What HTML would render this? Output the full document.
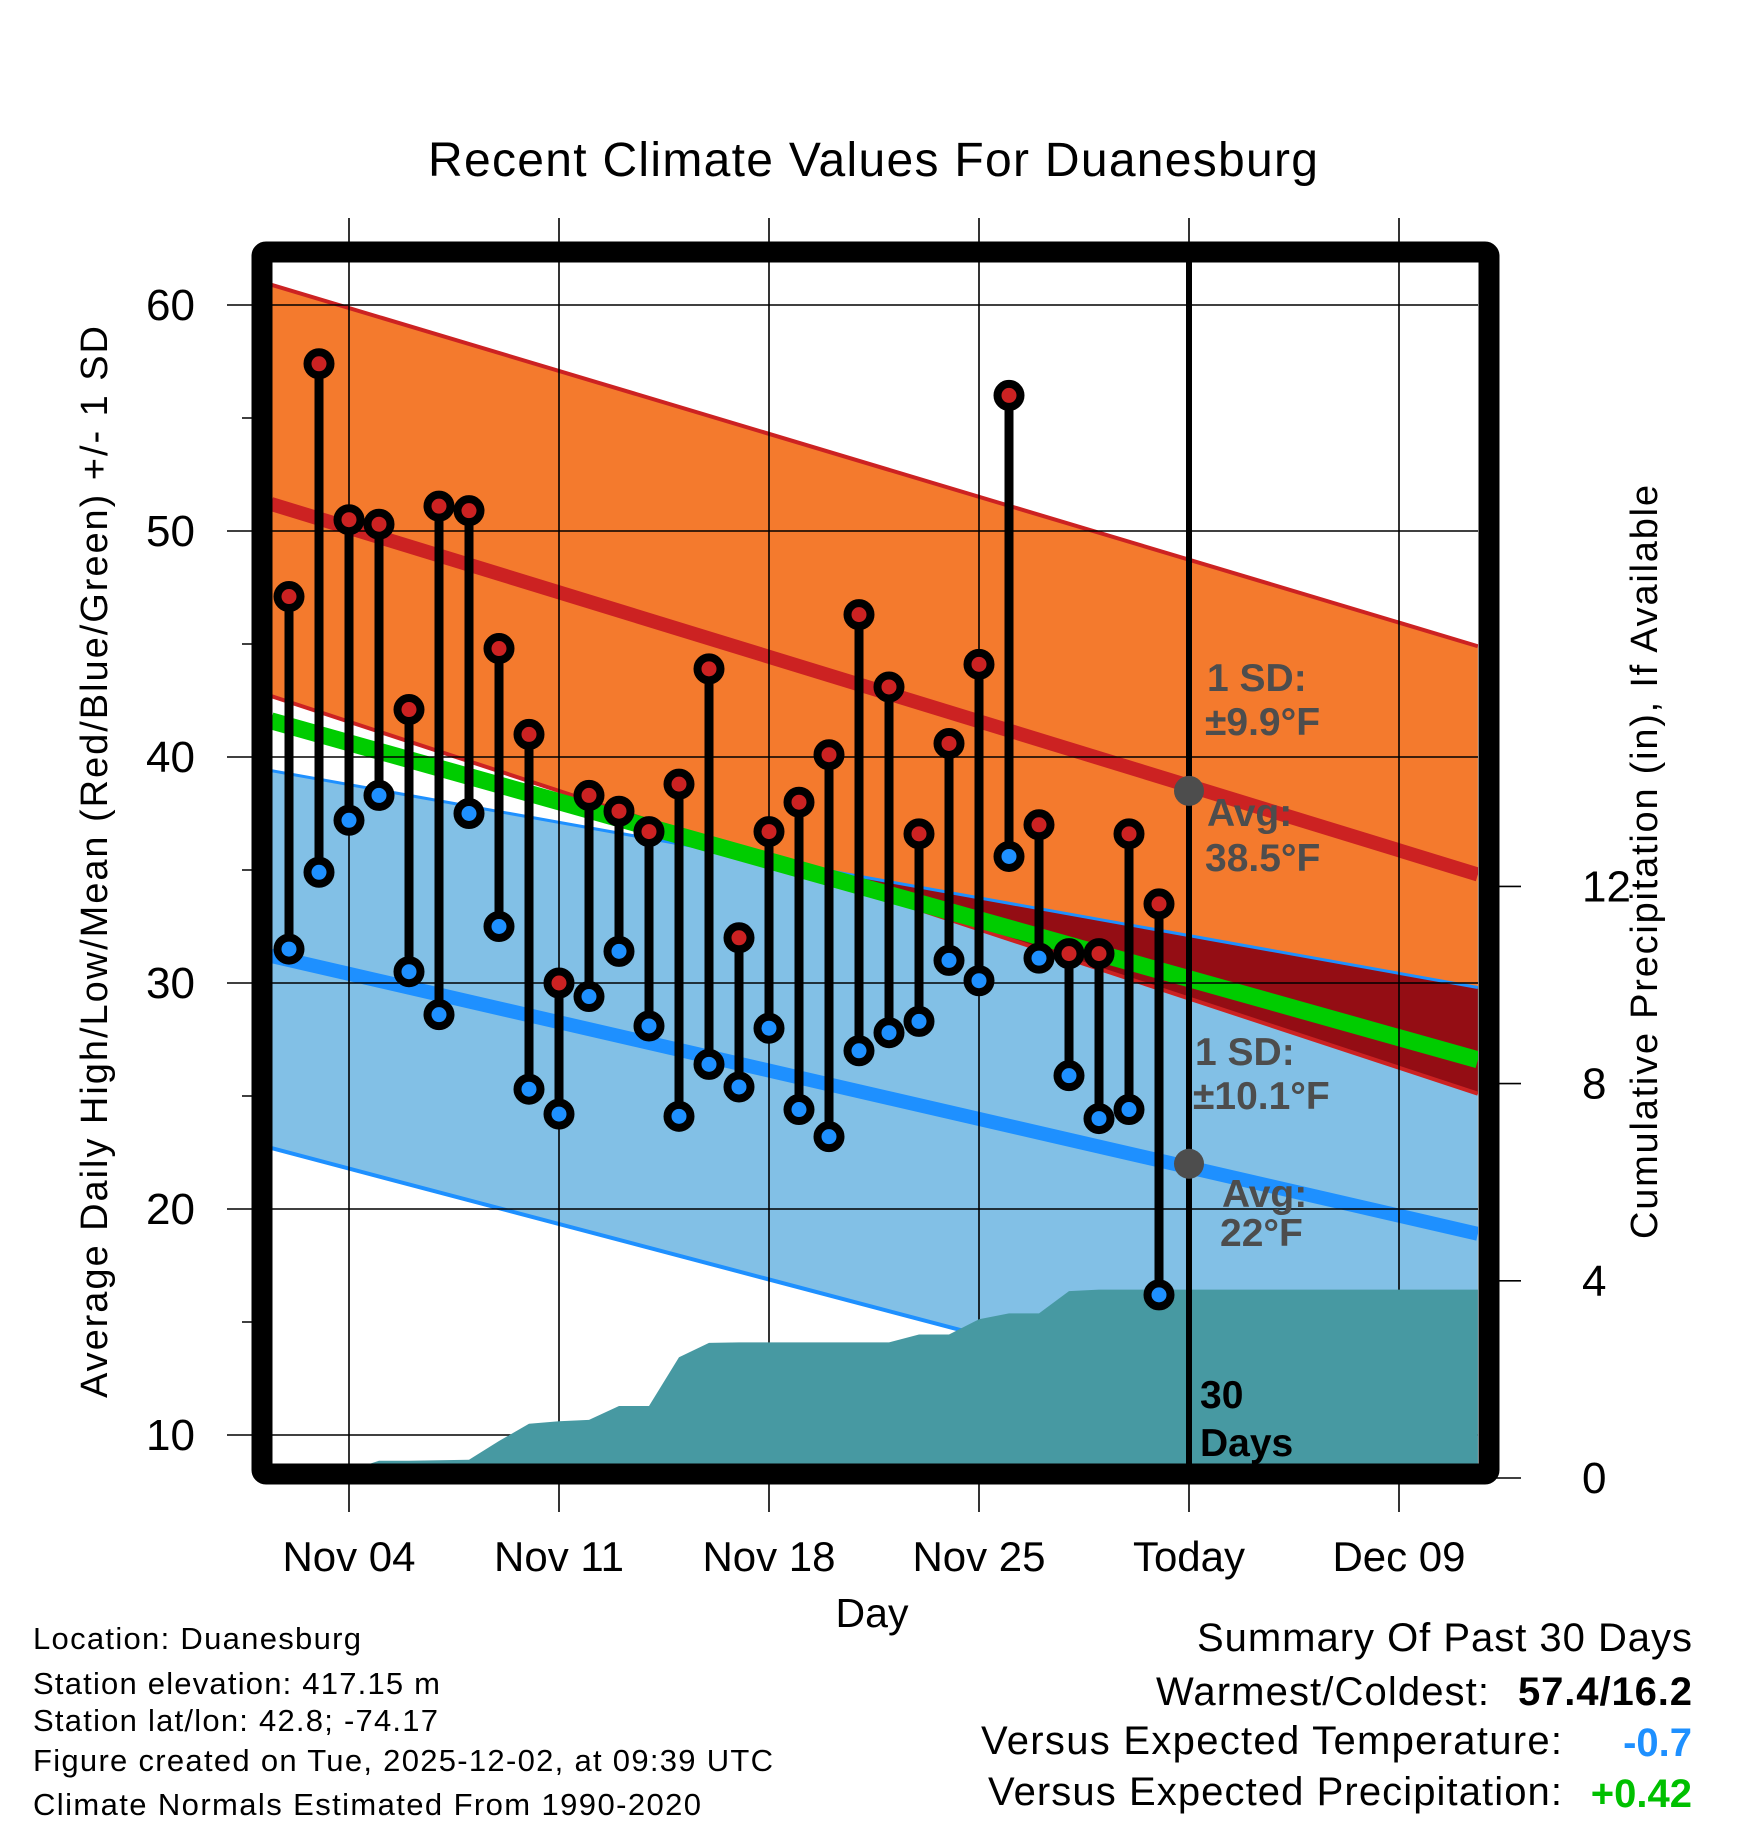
<!DOCTYPE html>
<html><head><meta charset="utf-8">
<style>
html,body{margin:0;padding:0;background:#fff;}
svg{display:block;font-family:"Liberation Sans",Arial,sans-serif;}
</style></head>
<body>
<svg id="chart" width="1748" height="1828" viewBox="0 0 1748 1828" xmlns="http://www.w3.org/2000/svg">
<defs><clipPath id="plotclip"><rect x="271" y="263" width="1207" height="1201"/></clipPath></defs>
<g id="fills" clip-path="url(#plotclip)"></g>
<g id="grid"></g>
<g id="precip" clip-path="url(#plotclip)"></g>
<g id="marks"></g>
<g id="annot"></g>
<rect x="262" y="252" width="1227" height="1222" fill="none" stroke="#000" stroke-width="21" rx="4"/>
<g id="axes"></g>
<text x="873" y="176" font-size="48" text-anchor="middle" textLength="890">Recent Climate Values For Duanesburg</text>
<text x="872" y="1627" font-size="41" text-anchor="middle">Day</text>
<text transform="translate(107,862) rotate(-90)" font-size="38" text-anchor="middle" textLength="1072">Average Daily High/Low/Mean (Red/Blue/Green) +/- 1 SD</text>
<text transform="translate(1657,862) rotate(-90)" font-size="38" text-anchor="middle" textLength="754">Cumulative Precipitation (in), If Available</text>
<g font-size="31">
<text x="33" y="1649" textLength="328">Location: Duanesburg</text>
<text x="33" y="1694" textLength="407">Station elevation: 417.15 m</text>
<text x="33" y="1731" textLength="405">Station lat/lon: 42.8; -74.17</text>
<text x="33" y="1771" textLength="740">Figure created on Tue, 2025-12-02, at 09:39 UTC</text>
<text x="33" y="1815" textLength="668">Climate Normals Estimated From 1990-2020</text>
</g>
<g font-size="40">
<text x="1692" y="1651" text-anchor="end" textLength="495">Summary Of Past 30 Days</text>
<text x="1156" y="1705" textLength="333">Warmest/Coldest:</text>
<text x="1518" y="1705" font-weight="bold" textLength="174">57.4/16.2</text>
<text x="981" y="1754" textLength="581">Versus Expected Temperature:</text>
<text x="1692" y="1756" font-weight="bold" fill="#1e90ff" text-anchor="end">-0.7</text>
<text x="988" y="1805" textLength="574">Versus Expected Precipitation:</text>
<text x="1692" y="1807" font-weight="bold" fill="#00c000" text-anchor="end">+0.42</text>
</g>
</svg>
<script>
// ---- data ----
const dayLabels = ["Nov 04","Nov 11","Nov 18","Nov 25","Today","Dec 09"];
const dayLabelPos = [0,7,14,21,28,35];
const obsDays = [-2,-1,0,1,2,3,4,5,6,7,8,9,10,11,12,13,14,15,16,17,18,19,20,21,22,23,24,25,26,27];
const highs = [47.1,57.4,50.5,50.3,42.1,51.1,50.9,44.8,41.0,30.0,38.3,37.6,36.7,38.8,43.9,32.0,36.7,38.0,40.1,46.3,43.1,36.6,40.6,44.1,56.0,37.0,31.3,31.3,36.6,33.5];
const lows = [31.5,34.9,37.2,38.3,30.5,28.6,37.5,32.5,25.3,24.2,29.4,31.4,28.1,24.1,26.4,25.4,28.0,24.4,23.2,27.0,27.8,28.3,31.0,30.1,35.6,31.1,25.9,24.0,24.4,16.2];
const precipDays = [-2,-1,0,1,2,3,4,5,6,7,8,9,10,11,12,13,14,15,16,17,18,19,20,21,22,23,24,25,26,27,28];
const precip = [0,0,0.15,0.35,0.35,0.36,0.37,0.75,1.1,1.15,1.18,1.46,1.46,2.45,2.74,2.75,2.75,2.75,2.75,2.75,2.75,2.91,2.91,3.22,3.34,3.34,3.79,3.82,3.82,3.82,3.82];
const normDays = [-2.6,37.63];
const highAvg = [51.2,34.8];
const highUp = [60.9,44.9];
const highLo = [42.7,25.1];
const lowAvg = [31.2,18.9];
const lowUp = [39.4,29.8];
const lowLo = [22.7,8.6];
const meanAvg = [41.6,26.6];
const yTicks = [10,20,30,40,50,60];
const yMinor = [15,25,35,45,55];
const y2Ticks = [0,4,8,12];
const todayDay = 28;
const todayHigh = 38.5, todayLow = 22;

// ---- scales ----
const X = d => 349 + 30*d;
const Y = v => 305 + (60 - v)*22.6;
const Y2 = p => 1478 - p*49.3;
const NS = "http://www.w3.org/2000/svg";
function mk(tag, attrs, parent){const e=document.createElementNS(NS,tag);for(const k in attrs)e.setAttribute(k,attrs[k]);parent.appendChild(e);return e;}
const lin = (arr,d) => arr[0] + (arr[1]-arr[0])*(d-normDays[0])/(normDays[1]-normDays[0]);
const fills=document.getElementById('fills'), grid=document.getElementById('grid'), pg=document.getElementById('precip'), marks=document.getElementById('marks'), annot=document.getElementById('annot'), axes=document.getElementById('axes');

function band(up, lo, color, name){
  const d0=normDays[0], d1=normDays[1];
  const pts=[[X(d0),Y(up[0])],[X(d1),Y(up[1])],[X(d1),Y(lo[1])],[X(d0),Y(lo[0])]];
  const p=mk('polygon',{points:pts.map(p=>p.join(',')).join(' '),fill:color},fills);
  
  
}
band(highUp, highLo, '#f47a2d', 'high-sd-band');
band(lowUp, lowLo, '#82c0e6', 'low-sd-band');
{
  const N=80, top=[], bot=[];
  for(let i=0;i<=N;i++){const d=normDays[0]+(normDays[1]-normDays[0])*i/N;
    const t=lin(lowUp,d), b=Math.max(lin(highLo,d),lin(lowLo,d));
    if(t>b){top.push([X(d),Y(t)]);bot.push([X(d),Y(b)]);}}
  if(top.length){const pts=top.concat(bot.reverse());
    const p=mk('polygon',{points:pts.map(p=>p.join(',')).join(' '),fill:'#940d14'},fills);
    
    }
}
function line(arr,color,w,name){
  const l=mk('line',{x1:X(normDays[0]),y1:Y(arr[0]),x2:X(normDays[1]),y2:Y(arr[1]),stroke:color,'stroke-width':w},fills);
  
  
}
line(highUp,'#cc2222',4,'high-upper-sd-line');
line(highLo,'#cc2222',4,'high-lower-sd-line');
line(lowUp,'#1e90ff',3,'low-upper-sd-line');
line(lowLo,'#1e90ff',4,'low-lower-sd-line');
line(highAvg,'#cc2222',14,'avg-high-line');
line(lowAvg,'#1e90ff',14,'avg-low-line');
line(meanAvg,'#00cc00',17,'avg-mean-line');

yTicks.forEach(v=>{const l=mk('line',{x1:227,x2:1478,y1:Y(v),y2:Y(v),stroke:'#000','stroke-width':1.6},grid);
  
  
  const t=mk('text',{x:195,y:Y(v)+15,'font-size':44,'text-anchor':'end'},axes);t.textContent=v;
  
  });
yMinor.forEach(v=>{const l=mk('line',{x1:242,x2:262,y1:Y(v),y2:Y(v),stroke:'#000','stroke-width':1.6},axes);
  
  });
dayLabelPos.forEach((d,i)=>{const l=mk('line',{x1:X(d),x2:X(d),y1:218,y2:1512,stroke:'#000','stroke-width':1.6},grid);
  
  
  const t=mk('text',{x:X(d),y:1571,'font-size':42,'text-anchor':'middle'},axes);t.textContent=dayLabels[i];
  
  });
y2Ticks.forEach(p=>{const l=mk('line',{x1:1489,x2:1521,y1:Y2(p),y2:Y2(p),stroke:'#000','stroke-width':1.6},axes);
  
  
  const t=mk('text',{x:1582,y:Y2(p)+15,'font-size':44,'text-anchor':'start'},axes);t.textContent=p;
  
  });

{
  const pts=[[X(normDays[0]),Y2(0)],[X(normDays[0]),Y2(precip[0])]];
  precipDays.forEach((d,i)=>pts.push([X(d),Y2(precip[i])]));
  pts.push([X(normDays[1]),Y2(precip[precip.length-1])],[X(normDays[1]),Y2(0)]);
  const p=mk('polygon',{points:pts.map(p=>p.join(',')).join(' '),fill:'#4799a2'},pg);
  
  
}

{
  const l=mk('line',{x1:X(todayDay),x2:X(todayDay),y1:262,y2:1464,stroke:'#000','stroke-width':6},marks);
  
  
  const a=mk('circle',{cx:X(todayDay),cy:Y(todayHigh),r:15,fill:'#4d4d4d'},marks);
  
  
  const b=mk('circle',{cx:X(todayDay),cy:Y(todayLow),r:15,fill:'#4d4d4d'},marks);
  
  
}
obsDays.forEach((d,i)=>{
  const s=mk('line',{x1:X(d),x2:X(d),y1:Y(highs[i]),y2:Y(lows[i]),stroke:'#000','stroke-width':9},marks);
  
  
});
obsDays.forEach((d,i)=>{
  const h=mk('circle',{cx:X(d),cy:Y(highs[i]),r:11.5,fill:'#cc2222',stroke:'#000','stroke-width':8},marks);
  
  
  const l=mk('circle',{cx:X(d),cy:Y(lows[i]),r:11.5,fill:'#1e90ff',stroke:'#000','stroke-width':8},marks);
  
  
});
const ann=[["1 SD:",1207,691,'#4d4d4d','high-sd-label'],["±9.9°F",1205,735,'#4d4d4d','high-sd-value'],
 ["Avg:",1207,826,'#4d4d4d','avg-high-label'],["38.5°F",1205,871,'#4d4d4d','avg-high-value'],
 ["1 SD:",1195,1065,'#4d4d4d','low-sd-label'],["±10.1°F",1193,1109,'#4d4d4d','low-sd-value'],
 ["Avg:",1222,1207,'#4d4d4d','avg-low-label'],["22°F",1220,1246,'#4d4d4d','avg-low-value'],
 ["30",1200,1408,'#000','days-count-label'],["Days",1200,1456,'#000','days-word-label']];
ann.forEach(a=>{const t=mk('text',{x:a[1],y:a[2],'font-size':39,'font-weight':'bold',fill:a[3]},annot);t.textContent=a[0];
  
  });
</script>
</body></html>
